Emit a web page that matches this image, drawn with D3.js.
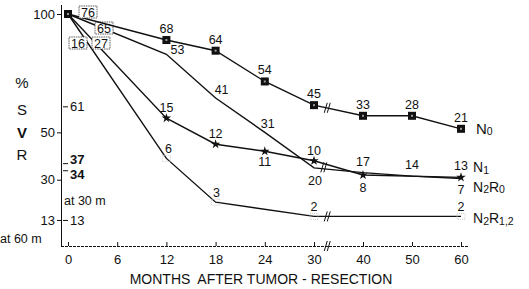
<!DOCTYPE html>
<html>
<head>
<meta charset="utf-8">
<script src="https://cdn.jsdelivr.net/npm/d3@7"></script>
<style>
  body { margin: 0; background: #fff; }
  svg { font-family: "Liberation Sans", Arial, sans-serif; }
  .tick line { stroke: #111; }
  .domain { stroke: #111; }
</style>
</head>
<body>
<script>
// months after resection, SVR %, and number of patients at risk (the small labels)
const n0Months = [0, 12, 18, 24, 30, 40, 50, 60];
const n0Svr = [100, 89, 84.5, 71.5, 61.5, 57, 57, 51.5];
const n0Count = [76, 68, 64, 54, 45, 33, 28, 21];

const n1Months = [0, 12, 18, 24, 30, 40, 60];
const n1Svr = [100, 56, 45, 42, 38, 32, 31];
const n1Count = [27, 15, 12, 11, 10, 8, 7];

const n2r0Months = [0, 12, 18, 24, 30, 40, 50, 60];
const n2r0Svr = [100, 83, 64.5, 50, 35, 33, 31.5, 30.5];
const n2r0Count = [65, 53, 41, 31, 20, 17, 14, 13];

const n2r12Months = [0, 12, 18, 30, 60];
const n2r12Svr = [100, 39, 20.5, 14.5, 14.5];
const n2r12Count = [16, 6, 3, 2, 2];

const xTicks = [0, 6, 12, 18, 24, 30, 40, 50, 60];
const yTicksLeft = [100, 50, 30, 13];
const yTicksRight = [61, 37, 34, 13];

const w = 529;
const h = 289;
const axisX = 61;

const svg = d3.select('body')
              .append('svg')
              .attr('width', w)
              .attr('height', h)

// time axis is broken after 30 months, so piecewise
const x = d3.scaleLinear()
            .domain([0, 30, 60])
            .range([68, 314, 461])
const y = d3.scaleLinear()
            .domain([2, 100])
            .range([246, 14])

const line = d3.line()
               .x(d => x(d[0]))
               .y(d => y(d[1]))

// x axis
const xAxis = d3.axisBottom(x)
                .tickValues(xTicks)
                .tickSize(-4)
                .tickPadding(9)
                .tickSizeOuter(0)
svg.append('g')
   .attr('transform', `translate(0,${y.range()[0]})`)
   .call(xAxis)
   .call(g => g.select('.domain').attr('d', `M${axisX},0.5H468`).attr('stroke-dasharray', '3,1'))
   .selectAll('text')
   .attr('font-size', 13)
   .attr('fill', '#111')

svg.append('text')
   .attr('x', 261)
   .attr('y', 284)
   .attr('text-anchor', 'middle')
   .attr('font-size', 14)
   .attr('fill', '#111')
   .attr('xml:space', 'preserve')
   .text('MONTHS  AFTER TUMOR - RESECTION')

// y axis (left side: scale values)
svg.append('g')
   .attr('transform', `translate(${axisX},0)`)
   .call(d3.axisLeft(y).tickValues(yTicksLeft).tickSize(4).tickPadding(2).tickSizeOuter(0))
   .call(g => g.select('.domain').attr('d', 'M0.5,5V247'))
   .selectAll('text')
   .attr('font-size', 13)
   .attr('fill', '#111')

// right side: SVR readings at 30 / 60 months
const rightAxis = svg.append('g')
   .attr('transform', `translate(${axisX + 2},0)`)
   .call(d3.axisRight(y).tickValues(yTicksRight).tickSize(5).tickPadding(2))
rightAxis.select('.domain').remove()
rightAxis.selectAll('text')
   .attr('font-size', 13)
   .attr('fill', '#111')
   .attr('font-weight', d => (d === 37 || d === 34) ? 'bold' : null)
   .attr('dy', d => d === 37 ? '0.02em' : d === 34 ? '0.6em' : '0.32em')

svg.append('text')
   .attr('x', axisX + 3)
   .attr('y', 205)
   .attr('font-size', 12.5)
   .attr('fill', '#111')
   .text('at 30 m')
svg.append('text')
   .attr('x', 0)
   .attr('y', 243)
   .attr('font-size', 12.5)
   .attr('fill', '#111')
   .text('at 60 m')

// y title, stacked letters
const yTitle = ['%', 'S', 'V', 'R'];
svg.selectAll('.ytitle')
   .data(yTitle)
   .enter()
   .append('text')
   .attr('class', 'ytitle')
   .attr('x', 22)
   .attr('y', (d, i) => [88, 115, 138, 160][i])
   .attr('text-anchor', 'middle')
   .attr('font-size', 15)
   .attr('font-weight', d => d === 'V' ? 'bold' : null)
   .attr('fill', '#111')
   .text(d => d)

// series
const series = [
  { name: 'n2r12', months: n2r12Months, svr: n2r12Svr, count: n2r12Count,
    off: [[10, 29], [2, -5], [1, -5], [0, -5], [0, -5]] },
  { name: 'n2r0', months: n2r0Months, svr: n2r0Svr, count: n2r0Count,
    off: [[36, 14], [11, 0], [6, -4], [3, -4], [1, 17], [0, -7], [0, -7], [0, -9]] },
  { name: 'n1', months: n1Months, svr: n1Svr, count: n1Count,
    off: [[33, 29], [0, -6], [0, -6], [0, 15], [0, -6], [0, 17], [0, 17]] },
  { name: 'n0', months: n0Months, svr: n0Svr, count: n0Count,
    off: [[20, -2], [0, -7], [0, -7], [0, -7], [0, -7], [0, -7], [0, -7], [0, -7]] }
];

series.forEach(s => {
  const pts = s.months.map((m, i) => [m, s.svr[i]]);
  svg.append('path')
     .datum(pts)
     .attr('d', line)
     .attr('fill', 'none')
     .attr('stroke', '#111')
     .attr('stroke-width', 1.4)

  const labels = svg.append('g').attr('class', 'labels-' + s.name);
  pts.forEach((p, i) => {
    const px = x(p[0]) + s.off[i][0];
    const py = y(p[1]) + s.off[i][1];
    if (i === 0) {
      // boxed count at the start
      labels.append('rect')
            .attr('x', px - 9)
            .attr('y', py - 6)
            .attr('width', 18)
            .attr('height', 12)
            .attr('fill', '#fff')
            .attr('stroke', '#333')
            .attr('stroke-width', 0.8)
            .attr('stroke-dasharray', '1.5,0.8')
      labels.append('text')
            .attr('x', px)
            .attr('y', py + 4.5)
            .attr('text-anchor', 'middle')
            .attr('font-size', 12.5)
            .attr('fill', '#111')
            .text(s.count[i])
    } else {
      labels.append('text')
            .attr('x', px)
            .attr('y', py)
            .attr('text-anchor', 'middle')
            .attr('font-size', 12.5)
            .attr('fill', '#111')
            .text(s.count[i])
    }
  });
});

// markers
svg.selectAll('.sq')
   .data(n0Months.map((m, i) => [m, n0Svr[i]]))
   .enter()
   .append('rect')
   .attr('class', 'sq')
   .attr('x', d => x(d[0]) - 4)
   .attr('y', d => y(d[1]) - 4)
   .attr('width', 8)
   .attr('height', 8)
   .attr('fill', '#111')
svg.selectAll('.sqdot')
   .data(n0Months.map((m, i) => [m, n0Svr[i]]))
   .enter()
   .append('rect')
   .attr('class', 'sqdot')
   .attr('x', d => x(d[0]) - 1)
   .attr('y', d => y(d[1]) - 1)
   .attr('width', 2)
   .attr('height', 2)
   .attr('fill', '#999')

svg.selectAll('.star')
   .data(n1Months.slice(1).map((m, i) => [m, n1Svr[i + 1]]))
   .enter()
   .append('path')
   .attr('class', 'star')
   .attr('transform', d => `translate(${x(d[0])},${y(d[1])})`)
   .attr('d', d3.symbol(d3.symbolStar, 28))
   .attr('fill', '#111')

svg.selectAll('.faint')
   .data(n2r12Months.slice(1).map((m, i) => [m, n2r12Svr[i + 1]]))
   .enter()
   .append('rect')
   .attr('class', 'faint')
   .attr('x', d => x(d[0]) - 4)
   .attr('y', d => y(d[1]) - 3)
   .attr('width', 8)
   .attr('height', 6)
   .attr('fill', 'none')
   .attr('stroke', '#ccc')
   .attr('stroke-dasharray', '1,1')

// break marks "//" between 30 and 40 months
function breakMark(cx, cy) {
  [0, 3].forEach(o => {
    svg.append('line')
       .attr('x1', cx - 2 + o)
       .attr('y1', cy + 5)
       .attr('x2', cx + 1 + o)
       .attr('y2', cy - 5)
       .attr('stroke', '#111')
       .attr('stroke-width', 1)
  });
}
function interp(months, vals, m) {
  const i = d3.bisectRight(months, m);
  const t = (m - months[i - 1]) / (months[i] - months[i - 1]);
  return vals[i - 1] + t * (vals[i] - vals[i - 1]);
}
breakMark(x(32.5), y.range()[0]);
breakMark(x(32.5), y(interp(n0Months, n0Svr, 32.5)));
breakMark(x(31.8), y(interp(n1Months, n1Svr, 31.8)) + 4);
breakMark(x(32.5), y(interp(n2r12Months, n2r12Svr, 32.5)));

// group names at the right end
const legend = [
  { main: 'N', sub: '0', last: n0Svr[n0Svr.length - 1], dy: 5, size: 15 },
  { main: 'N', sub: '1', last: n1Svr[n1Svr.length - 1], dy: -5, size: 14 },
  { main: 'N', sub: '2', main2: 'R', sub2: '0', last: n2r0Svr[n2r0Svr.length - 1], dy: 13, size: 14 },
  { main: 'N', sub: '2', main2: 'R', sub2: '1,2', last: n2r12Svr[n2r12Svr.length - 1], dy: 7, size: 14 }
];
legend.forEach((d, i) => {
  const t = svg.append('text')
               .attr('x', i === 0 ? 476 : 473)
               .attr('y', y(d.last) + d.dy)
               .attr('font-size', d.size)
               .attr('fill', '#111')
  t.append('tspan').text(d.main)
  t.append('tspan').attr('font-size', 10.5).attr('dy', 1.5).text(d.sub)
  if (d.main2) {
    t.append('tspan').attr('dy', -1.5).text(d.main2)
    t.append('tspan').attr('font-size', 10.5).attr('dy', 1.5).text(d.sub2)
  }
});
</script>
</body>
</html>
